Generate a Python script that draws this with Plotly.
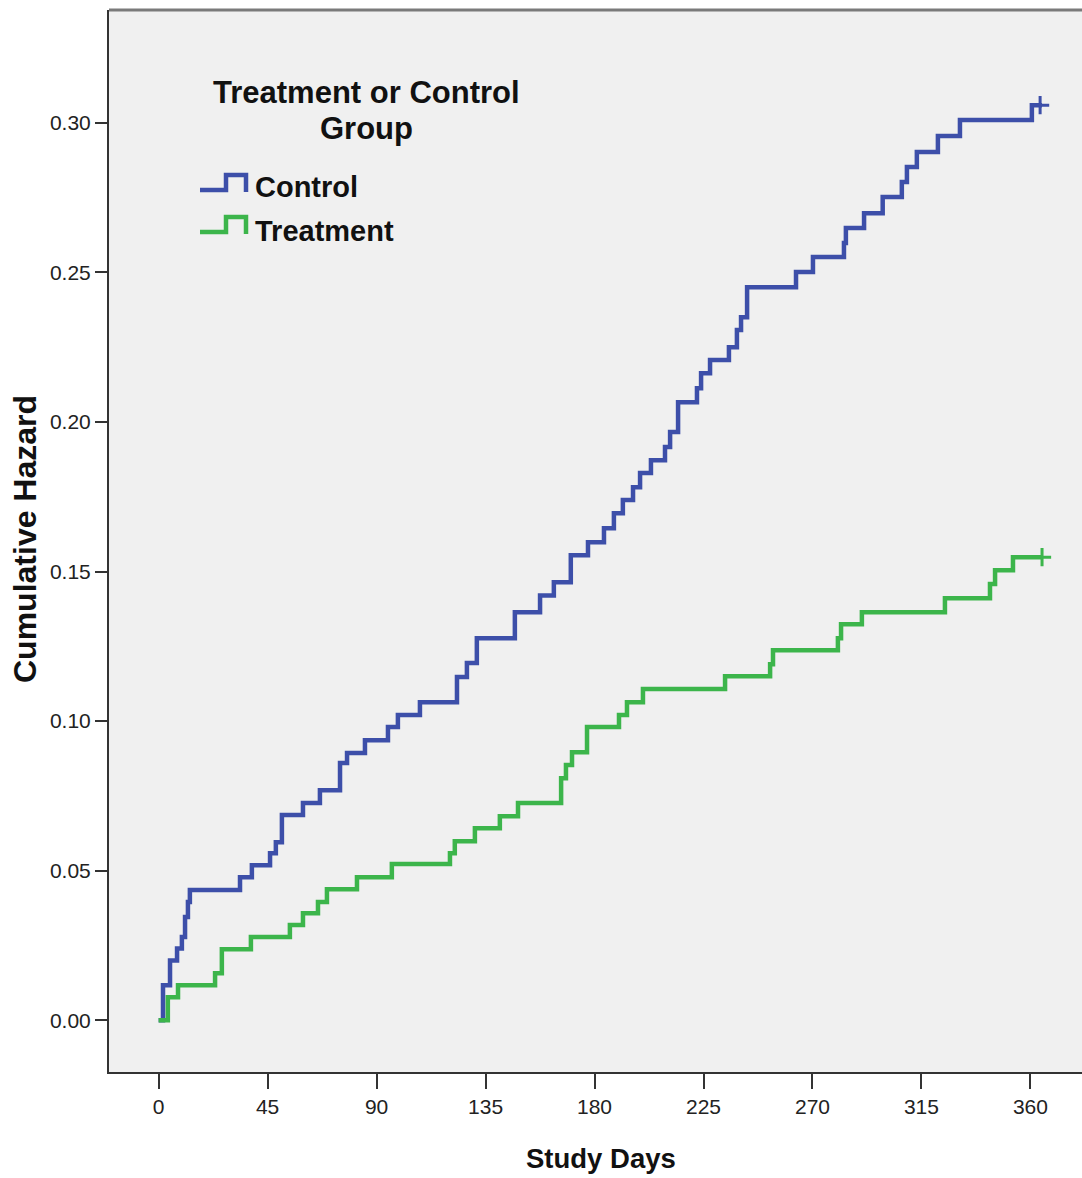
import plotly.graph_objects as go

# ---- data ----
control_days = [0, 1.8, 4.7, 7.6, 9.6, 10.9, 12.1, 12.9, 33.6, 38.5, 46.0, 48.4, 50.9, 59.6, 66.6,
                74.9, 77.8, 85.2, 94.7, 98.8, 107.9, 123.2, 127.3, 131.4, 147.1, 157.5, 163.2,
                170.2, 177.3, 183.9, 188.0, 191.7, 195.9, 198.8, 203.3, 209.1, 211.2, 214.5,
                222.3, 224.0, 227.7, 235.5, 238.8, 240.5, 243.0, 263.2, 270.2, 283.0, 283.8,
                291.3, 299.0, 306.9, 309.0, 313.1, 321.8, 330.9, 360.6, 364.8]
control_hazard = [0, 0.0117, 0.0200, 0.0240, 0.0278, 0.0345, 0.0395, 0.0435, 0.0478, 0.0518,
                  0.0558, 0.0595, 0.0686, 0.0726, 0.0769, 0.0860, 0.0893, 0.0936, 0.0980, 0.1020,
                  0.1063, 0.1147, 0.1194, 0.1277, 0.1364, 0.1420, 0.1464, 0.1554, 0.1598, 0.1645,
                  0.1695, 0.1739, 0.1782, 0.1829, 0.1872, 0.1916, 0.1966, 0.2066, 0.2113, 0.2163,
                  0.2207, 0.2250, 0.2307, 0.2350, 0.2450, 0.2501, 0.2551, 0.2598, 0.2648, 0.2698,
                  0.2752, 0.2802, 0.2852, 0.2902, 0.2956, 0.3009, 0.3059, 0.3059]
control_censor_day = [364.0]
control_censor_hazard = [0.3059]

treat_days = [0, 3.8, 8.0, 23.3, 26.1, 38.1, 54.2, 59.6, 65.8, 69.5, 81.9, 96.3, 120.3, 122.3,
              130.6, 140.9, 148.4, 166.2, 168.2, 170.7, 176.9, 190.1, 193.4, 200.0, 233.9, 252.5,
              253.7, 280.5, 281.8, 290.4, 324.7, 343.3, 345.4, 352.8, 365.2]
treat_hazard = [0, 0.0077, 0.0117, 0.0157, 0.0237, 0.0278, 0.0318, 0.0358, 0.0395, 0.0438,
                0.0478, 0.0522, 0.0558, 0.0598, 0.0642, 0.0682, 0.0726, 0.0809, 0.0853, 0.0896,
                0.0980, 0.1020, 0.1063, 0.1107, 0.1150, 0.1190, 0.1237, 0.1277, 0.1324, 0.1364,
                0.1411, 0.1458, 0.1504, 0.1548, 0.1548]
treat_censor_day = [364.8]
treat_censor_hazard = [0.1548]

x_ticks = [0, 45, 90, 135, 180, 225, 270, 315, 360]
y_ticks = [0.00, 0.05, 0.10, 0.15, 0.20, 0.25, 0.30]

group_names = ["Control", "Treatment"]
legend_title_lines = ["Treatment or Control", "Group"]
x_title = "Study Days"
y_title = "Cumulative Hazard"

# ---- styling ----
BLUE = "#3D4FA9"
GREEN = "#3CB54B"
W, H = 1082, 1178
ML, MR, MT, MB = 109, 0, 10, 106
SANS = "Liberation Sans, Arial, sans-serif"

fig = go.Figure()
fig.add_trace(go.Scatter(x=control_days, y=control_hazard, mode="lines", name=group_names[0],
                         line=dict(color=BLUE, width=4.5, shape="hv"), showlegend=False))
fig.add_trace(go.Scatter(x=treat_days, y=treat_hazard, mode="lines", name=group_names[1],
                         line=dict(color=GREEN, width=4.5, shape="hv"), showlegend=False))
fig.add_trace(go.Scatter(x=control_censor_day, y=control_censor_hazard, mode="markers",
                         marker=dict(symbol="cross-thin", size=13, line=dict(color=BLUE, width=3)),
                         showlegend=False, hoverinfo="skip"))
fig.add_trace(go.Scatter(x=treat_censor_day, y=treat_censor_hazard, mode="markers",
                         marker=dict(symbol="cross-thin", size=13, line=dict(color=GREEN, width=3)),
                         showlegend=False, hoverinfo="skip"))

pw = W - ML - MR
ph = H - MT - MB


def px(x):
    return (x - ML) / pw


def py(y):
    return (H - MB - y) / ph


def step_icon(x0, y0, color):
    pts = [(x0, y0), (x0 + 26, y0), (x0 + 26, y0 - 15), (x0 + 46, y0 - 15), (x0 + 46, y0 + 2)]
    path = "M " + " L ".join(f"{px(a):.5f},{py(b):.5f}" for a, b in pts)
    return dict(type="path", xref="paper", yref="paper", path=path,
                line=dict(color=color, width=4.5))


shapes = [
    dict(type="line", xref="paper", yref="paper", x0=0, x1=1, y0=1, y1=1,
         line=dict(color="#7a7a7a", width=3)),
    step_icon(200, 190, BLUE),
    step_icon(200, 232, GREEN),
]


def label(text, x, y, size, xanchor="center", angle=0):
    return dict(text=text, xref="paper", yref="paper", x=px(x), y=py(y),
                xanchor=xanchor, yanchor="middle", showarrow=False, textangle=angle,
                font=dict(family=SANS, size=size, color="#111", weight="bold"))


annotations = [
    label(legend_title_lines[0], 366, 92, 31),
    label(legend_title_lines[1], 366, 128, 31),
    label(group_names[0], 253, 187, 29, xanchor="left"),
    label(group_names[1], 253, 231, 29, xanchor="left"),
    label(x_title, 601, 1158, 27.5),
    label(y_title, 25, 539, 32, angle=-90),
]

fig.update_layout(
    width=W, height=H,
    margin=dict(l=ML, r=MR, t=MT, b=MB, pad=0),
    paper_bgcolor="white", plot_bgcolor="#F0F0F0",
    shapes=shapes, annotations=annotations,
    showlegend=False,
    xaxis=dict(range=[-20.5, 381.3], tickvals=x_ticks, ticktext=[str(v) for v in x_ticks],
               showgrid=False, zeroline=False, showline=True, linecolor="#333", linewidth=2,
               ticks="outside", ticklen=15, tickwidth=2, tickcolor="#333",
               tickfont=dict(family=SANS, size=21, color="#222")),
    yaxis=dict(range=[-0.0173, 0.3377], tickvals=y_ticks, tickformat=".2f",
               showgrid=False, zeroline=False, showline=True, linecolor="#333", linewidth=2,
               ticks="outside", ticklen=12, tickwidth=2, tickcolor="#333",
               tickfont=dict(family=SANS, size=21, color="#222")),
)

fig.write_html("out.html", config={"displayModeBar": False},
               post_script="document.body.style.margin='0px';")
